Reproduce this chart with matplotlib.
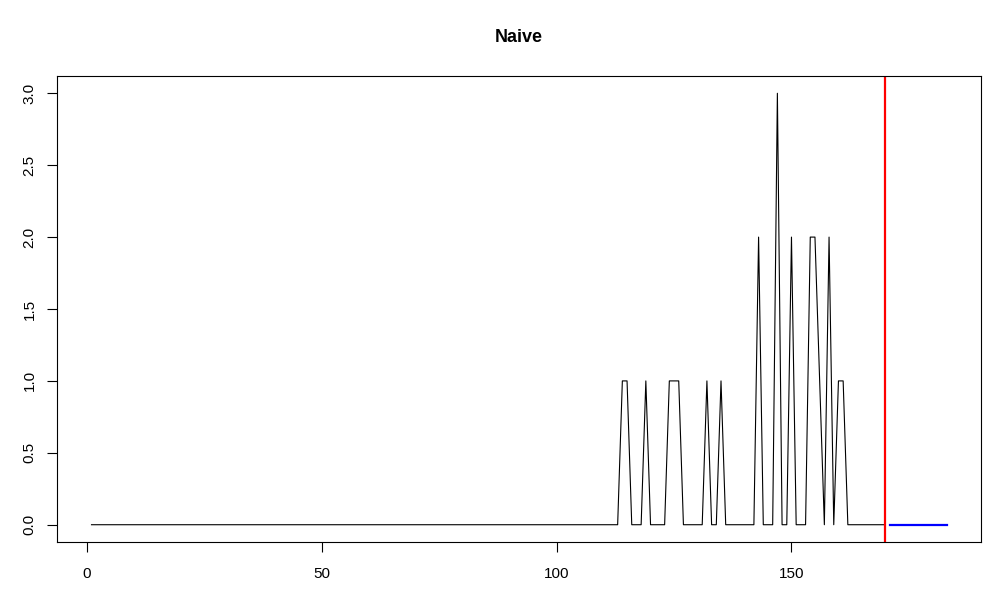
import numpy as np
import matplotlib.pyplot as plt

plt.rcParams['font.family'] = ['Liberation Sans', 'DejaVu Sans']

# observed series (t = 1..170), all zero except these points
n_obs = 170
spikes_t = [114, 115, 119, 124, 125, 126, 132, 135, 143, 147, 150, 154, 155, 156, 158, 160, 161]
spikes_v = [1, 1, 1, 1, 1, 1, 1, 1, 2, 3, 2, 2, 2, 1, 2, 1, 1]

# naive forecast (t = 171..183)
fc_t = list(range(171, 184))
fc_v = [0] * len(fc_t)

split_t = 170

t = np.arange(1, n_obs + 1)
y = np.zeros(n_obs)
for tt, vv in zip(spikes_t, spikes_v):
    y[tt - 1] = vv

fig = plt.figure(figsize=(10, 6), dpi=100)
ax = fig.add_axes([0.0573, 0.0967, 0.9234, 0.7766])

ax.plot(t, y, color='black', lw=0.8)
ax.plot(fc_t, fc_v, color='blue', lw=1.6)
ax.axvline(split_t, color='red', lw=1.6)

# R style axis limits (range +/- 4%)
x0, x1 = 1, 183
dx = (x1 - x0) * 0.04
ax.set_xlim(x0 - dx, x1 + dx)
ax.set_ylim(-0.12, 3.12)

ax.set_xticks([0, 50, 100, 150])
ax.set_yticks(np.arange(0, 3.01, 0.5))
ax.set_yticklabels([f"{v:.1f}" for v in np.arange(0, 3.01, 0.5)], rotation=90, va='center')

ax.tick_params(axis='both', direction='out', length=7, width=0.8, labelsize=11, pad=8)
ax.tick_params(axis='x', pad=11)
for s in ax.spines.values():
    s.set_linewidth(0.8)
    s.set_color('black')

fig.text(0.519, 1 - 38 / 600, 'Naive', ha='center', va='center', fontsize=13, fontweight='bold')

fig.savefig('out.png', dpi=100)
